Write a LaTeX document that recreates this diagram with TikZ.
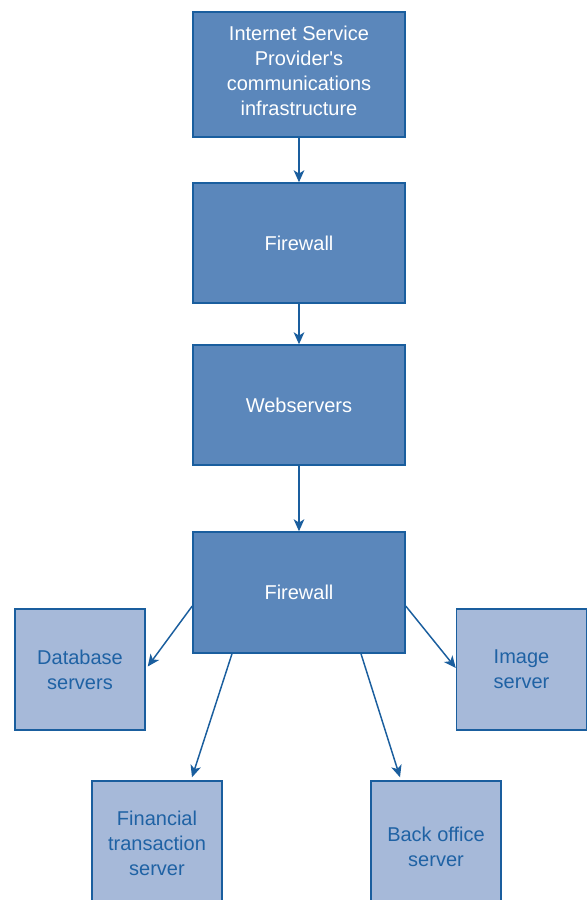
\documentclass[tikz,border=0pt]{standalone}
\usepackage{fontspec}
\setmainfont{Liberation Sans}
\usetikzlibrary{arrows.meta,calc}
\definecolor{darkfill}{HTML}{5B87BB}
\definecolor{lightfill}{HTML}{A6B9D9}
\definecolor{edgeblue}{HTML}{1A5E9E}
\definecolor{textblue}{HTML}{1F62A4}
\begin{document}
\begin{tikzpicture}[x=0.75pt,y=-0.75pt,
  darkbox/.style={draw=edgeblue,line width=1.1pt,fill=darkfill,text=white,
    minimum width=159pt,align=center,font=\fontsize{15}{18.75}\selectfont,inner sep=0pt},
  lightbox/.style={draw=edgeblue,line width=1.1pt,fill=lightfill,text=textblue,
    minimum width=97.5pt,align=center,font=\fontsize{15}{18.75}\selectfont,inner sep=0pt},
  boxtext/.style={text=white,align=center,font=\fontsize{15}{18.75}\selectfont,inner sep=0pt},
  conn/.style={draw=edgeblue,line width=1.1pt,-{Stealth[length=9pt,width=8pt,inset=2.5pt]}}]
\clip (0,0) rectangle (588,900);
\fill[white] (0,0) rectangle (588,900);
\node[darkbox,minimum height=93.75pt] (isp) at (299,74.5) {};
\node[boxtext] (isptext) at (299,70.5) {Internet Service\\Provider\textquotesingle s\\communications\\infrastructure};
\node[darkbox,minimum height=90pt] (fw1) at (299,243) {Firewall};
\node[darkbox,minimum height=90pt] (web) at (299,405) {Webservers};
\node[darkbox,minimum height=90.75pt] (fw2) at (299,592.5) {Firewall};
\node[lightbox,minimum height=90.75pt] (db) at (80,669.5) {Database\\servers};
\node[lightbox,minimum height=90.75pt] (img) at (521.5,669.5) {Image\\server};
\node[lightbox,minimum height=93.75pt] (fin) at (157,843.5) {Financial\\transaction\\server};
\node[lightbox,minimum height=98.25pt] (back) at (436,846.5) {Back office\\server};
\draw[conn] (isp) -- (fw1);
\draw[conn] (fw1) -- (web);
\draw[conn] (web) -- (fw2);
\draw[conn] ($(fw2.west)+(0,13.5)$) -- ($(db.east)+(2,-3)$);
\draw[conn] ($(fw2.east)+(0,13.5)$) -- ($(img.west)+(0,-1.5)$);
\draw[conn] ($(fw2.south)+(-67,0)$) -- ($(fin.north)+(35,-3)$);
\draw[conn] ($(fw2.south)+(62,0)$) -- ($(back.north)+(-36,-3)$);
\end{tikzpicture}
\end{document}
